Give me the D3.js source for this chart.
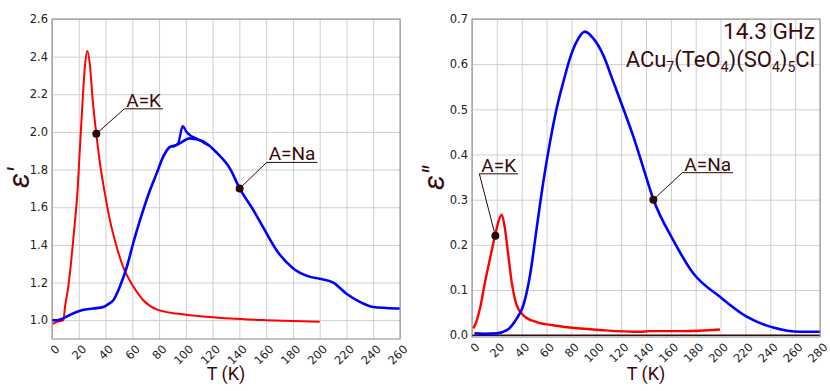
<!DOCTYPE html>
<html>
<head>
<meta charset="utf-8">
<script src="https://cdn.jsdelivr.net/npm/d3@7"></script>
<style>
  body { margin: 0; background: #fff; }
  svg { display: block; }
</style>
</head>
<body>
<div id="chart"></div>
<script>
// left panel: eps' vs T
var kT1 = [0.5, 3, 6, 8.5, 9.7, 12.2, 14, 15.9, 17.5, 18.9, 20.9, 22.9, 24.6, 26.4, 28.4, 30.4, 33.1, 35.9, 39.6, 43.3, 48.3, 53.3, 60.7, 68.2, 78.2, 93, 110.6, 133, 160, 180, 200];
var kEps1 = [0.98, 0.99, 0.995, 1.0, 1.07, 1.18, 1.29, 1.43, 1.55, 1.67, 1.92, 2.17, 2.35, 2.43, 2.35, 2.17, 1.99, 1.83, 1.67, 1.53, 1.39, 1.28, 1.18, 1.106, 1.057, 1.035, 1.021, 1.009, 1.0, 0.995, 0.991];
var naT1 = [0, 4, 8.5, 14, 20.9, 30.9, 38.3, 42, 45.8, 50.8, 55.8, 60.7, 65.7, 73.2, 78.2, 83.2, 88.1, 93, 103, 113, 123, 133, 140.2, 150.4, 160.4, 167.9, 180.3, 192.8, 200, 210.2, 220, 230, 240, 250, 260];
var naEps1 = [1.0, 1.0, 1.01, 1.03, 1.05, 1.062, 1.07, 1.085, 1.106, 1.18, 1.28, 1.41, 1.53, 1.69, 1.78, 1.87, 1.92, 1.93, 1.966, 1.95, 1.89, 1.805, 1.70, 1.585, 1.46, 1.37, 1.275, 1.23, 1.22, 1.20, 1.14, 1.097, 1.07, 1.065, 1.062];
// second branch of the Na curve near the maximum
var naBranchT1 = [90, 94.3, 97.6, 100.6, 110.6, 118];
var naBranchEps1 = [1.92, 1.94, 2.03, 2.0, 1.955, 1.925];

// right panel: eps'' vs T
var kT2 = [1, 2.4, 6.4, 10.5, 14.5, 18.5, 21.2, 23.9, 26.5, 29.2, 31.9, 36, 41.3, 52, 65, 78.8, 105.6, 135, 143, 170, 199.5];
var kEps2 = [0.015, 0.022, 0.059, 0.118, 0.17, 0.22, 0.251, 0.267, 0.236, 0.177, 0.118, 0.066, 0.044, 0.029, 0.022, 0.017, 0.011, 0.0075, 0.009, 0.009, 0.0126];
var naT2 = [2, 10, 19.9, 28, 36, 41.3, 46.7, 52, 57.4, 62.8, 68.1, 73.5, 78.8, 84.2, 90.9, 97.6, 105.6, 113.7, 121.7, 129.8, 137.9, 145.9, 162, 178, 199.5, 221, 242.4, 263.9, 280];
var naEps2 = [0.004, 0.003, 0.004, 0.011, 0.037, 0.066, 0.133, 0.236, 0.34, 0.428, 0.502, 0.561, 0.613, 0.65, 0.672, 0.657, 0.62, 0.561, 0.502, 0.44, 0.37, 0.301, 0.21, 0.137, 0.085, 0.041, 0.017, 0.0075, 0.0075];

var leftXTicks = [0, 20, 40, 60, 80, 100, 120, 140, 160, 180, 200, 220, 240, 260];
var rightXTicks = [0, 20, 40, 60, 80, 100, 120, 140, 160, 180, 200, 220, 240, 260, 280];
var leftYTicks = [1.0, 1.2, 1.4, 1.6, 1.8, 2.0, 2.2, 2.4, 2.6];
var rightYTicks = [0.0, 0.1, 0.2, 0.3, 0.4, 0.5, 0.6, 0.7];

var textColor = "#3a0b0b";

var svg = d3.select("#chart").append("svg")
  .attr("width", 830)
  .attr("height", 391);
svg.append("rect").attr("width", 830).attr("height", 391).attr("fill", "#fff");

function zip(a, b) {
  return a.map(function (d, i) { return [d, b[i]]; });
}

function drawPanel(p) {
  var x = d3.scaleLinear().domain(p.xDomain).range([p.left, p.right]);
  var y = d3.scaleLinear().domain(p.yDomain).range([p.bottom, p.top]);
  var h = p.bottom - p.top, w = p.right - p.left;

  // grid
  svg.append("g")
    .attr("transform", "translate(0," + p.bottom + ")")
    .call(d3.axisBottom(x).tickValues(p.xTicks).tickSize(-h).tickFormat(""))
    .call(function (g) { g.select(".domain").remove(); })
    .selectAll("line").attr("stroke", "#cfcfcf");
  svg.append("g")
    .attr("transform", "translate(" + p.left + ",0)")
    .call(d3.axisLeft(y).tickValues(p.yTicks).tickSize(-w).tickFormat(""))
    .call(function (g) { g.select(".domain").remove(); })
    .selectAll("line").attr("stroke", "#cfcfcf");

  if (p.zeroLine) {
    svg.append("line")
      .attr("x1", p.left).attr("x2", p.right)
      .attr("y1", y(0)).attr("y2", y(0))
      .attr("stroke", "#3a0b0b").attr("stroke-width", 1.5);
  }

  var line = d3.line()
    .x(function (d) { return x(d[0]); })
    .y(function (d) { return y(d[1]); })
    .curve(d3.curveMonotoneX);

  p.series.forEach(function (s) {
    svg.append("path")
      .attr("d", line(s.data))
      .attr("fill", "none")
      .attr("stroke", s.color)
      .attr("stroke-width", s.width || 2.2)
      .attr("stroke-linejoin", "round");
  });

  // frame
  svg.append("rect")
    .attr("x", p.left).attr("y", p.top)
    .attr("width", w).attr("height", h)
    .attr("fill", "none").attr("stroke", "#888").attr("stroke-width", 1);

  // tick labels
  var xa = svg.append("g")
    .attr("transform", "translate(0," + p.bottom + ")")
    .call(d3.axisBottom(x).tickValues(p.xTicks).tickSize(0).tickFormat(d3.format("d")));
  xa.select(".domain").remove();
  xa.selectAll("text")
    .attr("fill", "#222")
    .style("font-family", "DejaVu Sans")
    .style("font-size", "11.5px")
    .attr("text-anchor", "end")
    .attr("y", 0).attr("dy", "0.35em")
    .attr("transform", "translate(5,8) rotate(-45)");

  var ya = svg.append("g")
    .attr("transform", "translate(" + p.left + ",0)")
    .call(d3.axisLeft(y).tickValues(p.yTicks).tickSize(0).tickPadding(4).tickFormat(d3.format(".1f")));
  ya.select(".domain").remove();
  ya.selectAll("text")
    .attr("fill", "#222")
    .style("font-family", "DejaVu Sans")
    .style("font-size", "11.5px");

  svg.append("text")
    .attr("x", (p.left + p.right) / 2).attr("y", 380)
    .attr("text-anchor", "middle")
    .attr("fill", textColor)
    .style("font-family", "Roboto")
    .style("font-size", "18px")
    .text("T (K)");

  svg.append("text")
    .attr("transform", "translate(" + p.yLabelX + ",178) rotate(-90)")
    .attr("text-anchor", "middle")
    .attr("fill", textColor)
    .style("font-family", "Roboto")
    .style("font-style", "italic")
    .style("font-size", "29px")
    .text(p.yLabel);

  p.notes.forEach(function (n) {
    var cx = x(n.t), cy = y(n.v);
    var ex = cx + n.dx, ey = cy + n.dy;
    var t = svg.append("text")
      .attr("x", ex + 2).attr("y", ey - 2)
      .attr("fill", textColor)
      .style("font-family", "Roboto")
      .style("font-size", "19px")
      .text(n.label);
    var len = t.node().getComputedTextLength() + 4;
    svg.append("line")
      .attr("x1", cx).attr("y1", cy).attr("x2", ex).attr("y2", ey)
      .attr("stroke", "#2a0808").attr("stroke-width", 1);
    svg.append("line")
      .attr("x1", ex).attr("y1", ey).attr("x2", ex + len).attr("y2", ey)
      .attr("stroke", "#2a0808").attr("stroke-width", 1);
    svg.append("circle")
      .attr("cx", cx).attr("cy", cy).attr("r", 4)
      .attr("fill", "#2a0808");
  });
}

drawPanel({
  left: 52, right: 400, top: 19, bottom: 339,
  xDomain: [0, 260], yDomain: [0.9, 2.6],
  xTicks: leftXTicks, yTicks: leftYTicks,
  yLabel: "ε′", yLabelX: 29,
  series: [
    { data: zip(kT1, kEps1), color: "#ff0000", width: 2 },
    { data: zip(naT1, naEps1), color: "#0000ff", width: 2.6 },
    { data: zip(naBranchT1, naBranchEps1), color: "#0000ff", width: 2.4 }
  ],
  notes: [
    { t: 33.1, v: 1.99, dx: 28, dy: -25, label: "A=K" },
    { t: 140.2, v: 1.70, dx: 27, dy: -26, label: "A=Na" }
  ]
});

drawPanel({
  left: 472, right: 820, top: 19, bottom: 337,
  xDomain: [0, 280], yDomain: [-0.004, 0.7],
  xTicks: rightXTicks, yTicks: rightYTicks,
  yLabel: "ε″", yLabelX: 444, zeroLine: true,
  series: [
    { data: zip(kT2, kEps2), color: "#ff0000", width: 2.4 },
    { data: zip(naT2, naEps2), color: "#0000ff", width: 2.6 }
  ],
  notes: [
    { t: 18.8, v: 0.22, dx: -16, dy: -62, label: "A=K" },
    { t: 145.9, v: 0.30, dx: 29, dy: -27, label: "A=Na" }
  ]
});

// sample title
svg.append("text")
  .attr("x", 815).attr("y", 39)
  .attr("text-anchor", "end")
  .attr("fill", textColor)
  .style("font-family", "Roboto")
  .style("font-size", "22.5px")
  .text("14.3 GHz");

var formula = svg.append("text")
  .attr("x", 815).attr("y", 67)
  .attr("text-anchor", "end")
  .attr("fill", textColor)
  .style("font-family", "Roboto")
  .style("font-size", "22px");
[["ACu", false], ["7", true], ["(TeO", false], ["4", true], [")(SO", false], ["4", true], [")", false], ["5", true], ["Cl", false]]
  .forEach(function (part, i, arr) {
    var ts = formula.append("tspan").text(part[0]);
    if (part[1]) {
      ts.style("font-size", "14px").attr("dy", 5);
    } else if (i > 0 && arr[i - 1][1]) {
      ts.attr("dy", -5);
    }
  });
</script>
</body>
</html>
